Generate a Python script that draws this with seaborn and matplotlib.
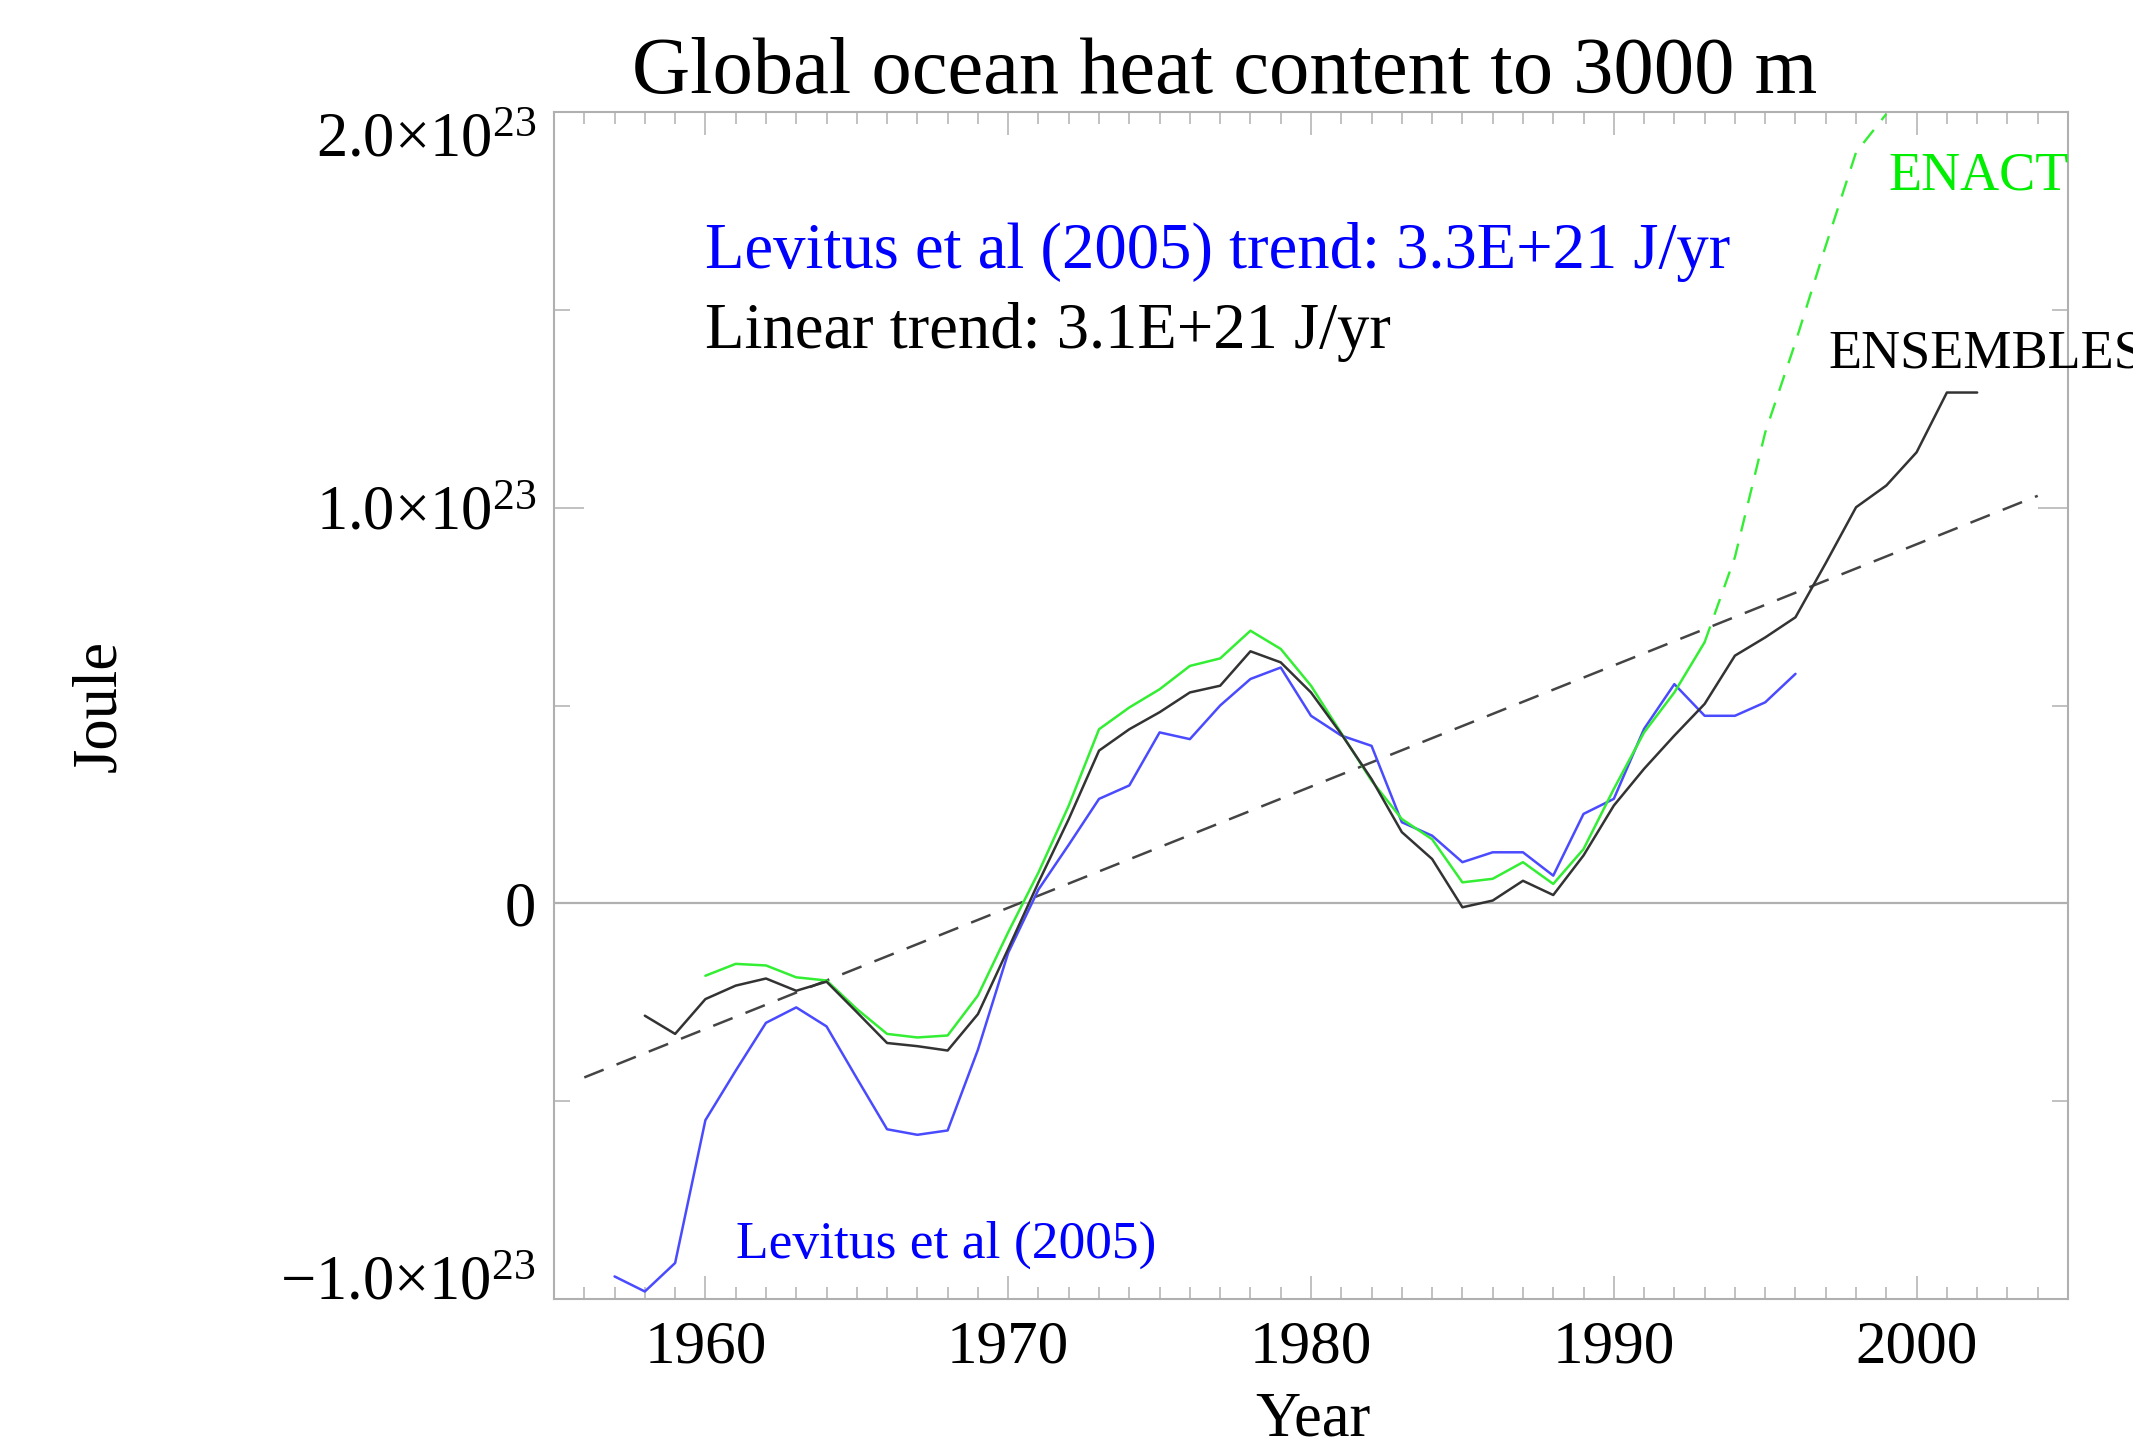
import numpy as np
import pandas as pd
import matplotlib
matplotlib.use("Agg")
import matplotlib.pyplot as plt
import matplotlib.transforms as mtransforms
import seaborn as sns

# ---------------- data (units of 1e23 J) ----------------
lev_years = list(range(1957, 1997))
lev_vals = [-0.943, -0.981, -0.909, -0.548, -0.423, -0.302, -0.263, -0.311, -0.442, -0.571,
            -0.585, -0.574, -0.370, -0.125, 0.035, 0.148, 0.264, 0.298, 0.432, 0.415,
            0.500, 0.567, 0.596, 0.474, 0.424, 0.398, 0.205, 0.171, 0.104, 0.129,
            0.129, 0.070, 0.226, 0.264, 0.441, 0.554, 0.474, 0.474, 0.508, 0.580]

ens_years = list(range(1958, 2003))
ens_vals = [-0.284, -0.330, -0.242, -0.208, -0.190, -0.221, -0.198, -0.275, -0.353, -0.361,
            -0.372, -0.280, -0.115, 0.053, 0.213, 0.386, 0.440, 0.483, 0.533, 0.550,
            0.637, 0.609, 0.533, 0.428, 0.314, 0.180, 0.112, -0.010, 0.007, 0.057,
            0.021, 0.121, 0.247, 0.340, 0.424, 0.504, 0.626, 0.672, 0.723, 0.860,
            1.001, 1.056, 1.140, 1.291, 1.291]

enact_years = list(range(1960, 1994))
enact_vals = [-0.183, -0.153, -0.157, -0.187, -0.195, -0.267, -0.330, -0.339, -0.334, -0.233,
              -0.073, 0.078, 0.247, 0.440, 0.495, 0.541, 0.600, 0.619, 0.689, 0.643,
              0.550, 0.430, 0.310, 0.213, 0.162, 0.053, 0.062, 0.104, 0.049, 0.137,
              0.289, 0.432, 0.533, 0.660]

enact_late_years = [1993, 1994, 1995, 1996, 1997, 1998, 1999]
enact_late_vals = [0.660, 0.875, 1.190, 1.418, 1.662, 1.898, 1.995]

trend_years = [1956, 2004]
trend_vals = [-0.44, 1.03]

scale = 1e23
ytick_vals = [-1.0, 0.0, 1.0, 2.0]
ytick_labels = [r"$\mathregular{-1.0×10^{23}}$", "0",
                r"$\mathregular{1.0×10^{23}}$", r"$\mathregular{2.0×10^{23}}$"]
xtick_vals = [1960, 1970, 1980, 1990, 2000]

# ---------------- style ----------------
sns.set_style("ticks")
plt.rcParams["font.family"] = ["Liberation Serif", "DejaVu Serif"]
plt.rcParams["mathtext.fontset"] = "custom"
plt.rcParams["mathtext.rm"] = "Liberation Serif"
plt.rcParams["lines.scale_dashes"] = False
plt.rcParams["text.color"] = "black"
plt.rcParams["axes.labelcolor"] = "black"

W, H = 2133, 1439
fig = plt.figure(figsize=(W / 100, H / 100), dpi=100)
L, R, T, B = 554, 2068, 112, 1299
ax = fig.add_axes([L / W, 1 - B / H, (R - L) / W, (B - T) / H])

frame_col = "#b0b0b0"

def px(x, y):
    return x / W, 1 - y / H

# zero line
ax.axhline(0, color=frame_col, lw=1.6, zorder=1)

# trend line
sns.lineplot(x=trend_years, y=np.array(trend_vals) * scale, ax=ax, color="#444444",
             lw=1.8, linestyle=(0, (15, 10)), zorder=2)

# data series
sns.lineplot(x=lev_years, y=np.array(lev_vals) * scale, ax=ax, color="#4a4aff", lw=1.8, zorder=3)
sns.lineplot(x=enact_years, y=np.array(enact_vals) * scale, ax=ax, color="#33ee33", lw=1.8, zorder=3)
sns.lineplot(x=enact_late_years, y=np.array(enact_late_vals) * scale, ax=ax, color="#33ee33",
             lw=1.7, linestyle=(0, (12, 9)), zorder=3)
sns.lineplot(x=ens_years, y=np.array(ens_vals) * scale, ax=ax, color="#333333", lw=1.8, zorder=4)

ax.set_xlim(1955, 2005)
ax.set_ylim(-1.0 * scale, 2.0 * scale)

ax.set_xticks(xtick_vals)
ax.set_xticklabels([str(v) for v in xtick_vals])
ax.set_xticks(np.arange(1955, 2006, 1), minor=True)
ax.set_yticks([v * scale for v in ytick_vals])
ax.set_yticklabels(ytick_labels)
ax.set_yticks([v * scale for v in [-0.5, 0.5, 1.5]], minor=True)

ax.tick_params(which="both", direction="in", top=True, right=True, colors=frame_col,
               labelcolor="black", width=1.1)
ax.tick_params(axis="x", which="major", length=16.5, labelsize=44, pad=15)
ax.tick_params(axis="x", which="minor", length=8.5)
ax.tick_params(axis="y", which="major", length=21.5, labelsize=45, pad=13)
ax.tick_params(axis="y", which="minor", length=11.5)

for s in ax.spines.values():
    s.set_color(frame_col)
    s.set_linewidth(1.5)

# shift extreme y tick labels inward (as in the original)
yt = ax.yaxis.get_major_ticks()
for tick, dy in zip(yt, [22, 0, 0, -22]):
    off = mtransforms.ScaledTranslation(0, dy / 100, fig.dpi_scale_trans)
    tick.label1.set_transform(tick.label1.get_transform() + off)

# axis labels
ax.set_xlabel("Year", fontsize=45, color="black")
ax.xaxis.label.set_va("baseline")
ax.xaxis.set_label_coords((1313 - L) / (R - L), (B - 1436) / (B - T))
ax.set_ylabel("Joule", fontsize=45, color="black")
ax.yaxis.label.set_va("baseline")
ax.yaxis.set_label_coords((115 - L) / (R - L), (B - 706) / (B - T))

# title
fig.text(*px(632, 93), "Global ocean heat content to 3000 m", fontsize=58,
         ha="left", va="baseline", color="black")

# annotations
fig.text(*px(705, 268), "Levitus et al (2005) trend: 3.3E+21 J/yr", fontsize=46.5,
         color="#0000ff", ha="left", va="baseline")
fig.text(*px(705, 348), "Linear trend: 3.1E+21 J/yr", fontsize=46.5,
         color="black", ha="left", va="baseline")
fig.text(*px(1888, 190), "ENACT", fontsize=39, color="#00ee00", ha="left", va="baseline")
fig.text(*px(1828, 368), "ENSEMBLES", fontsize=39, color="black", ha="left", va="baseline")
fig.text(*px(736, 1258), "Levitus et al (2005)", fontsize=38.5, color="#0000ff",
         ha="left", va="baseline")

fig.savefig("out.png", dpi=100, facecolor="white")
